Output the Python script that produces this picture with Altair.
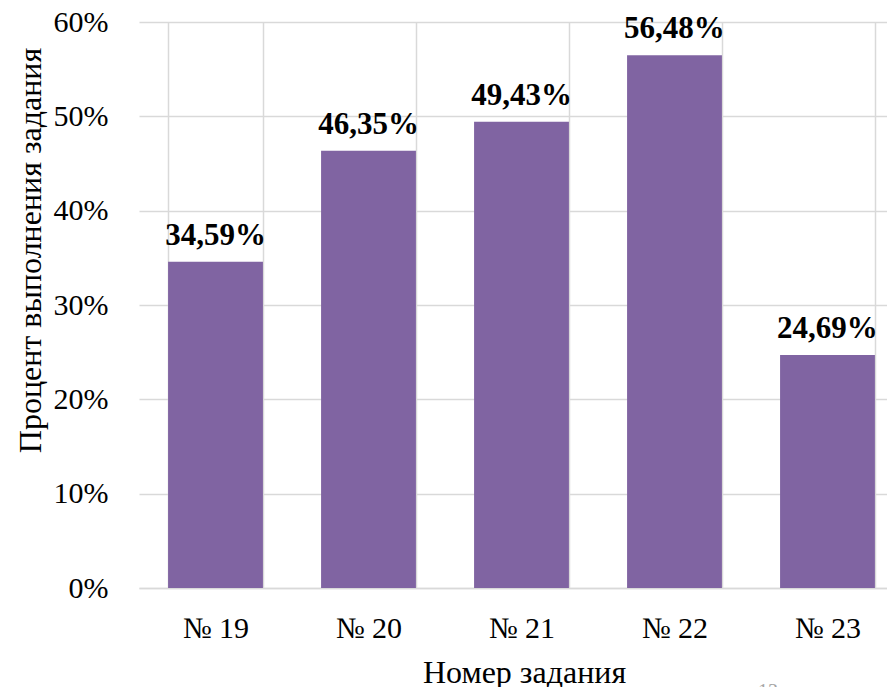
import altair as alt
import pandas as pd

tasks = ["№ 19", "№ 20", "№ 21", "№ 22", "№ 23"]
values = [34.59, 46.35, 49.43, 56.48, 24.69]
labels = ["34,59%", "46,35%", "49,43%", "56,48%", "24,69%"]

df = pd.DataFrame({
    "task": tasks,
    "value": [v / 100 for v in values],
    "label": labels,
})

FONT = "Liberation Serif"

xscale = alt.Scale(domain=tasks, paddingInner=0.38, paddingOuter=0.1345, align=0.7066)
yscale = alt.Scale(domain=[0, 0.6], nice=False)

base = alt.Chart(df)

bars = base.mark_bar(color="#8064A2").encode(
    x=alt.X(
        "task:N",
        scale=xscale,
        sort=tasks,
        axis=alt.Axis(
            title="Номер задания",
            titleFont=FONT,
            titleFontSize=32,
            titleFontWeight="normal",
            titleColor="#000000",
            titleX=385,
            titleY=94,
            titleBaseline="alphabetic",
            labelFont=FONT,
            labelFontSize=30,
            labelColor="#000000",
            labelAngle=0,
            labelBaseline="alphabetic",
            labelPadding=49,
            ticks=False,
            tickBand="extent",
            grid=True,
            gridColor="#D9D9D9",
            gridWidth=1.5,
            domainColor="#D9D9D9",
            domainWidth=1.5,
        ),
    ),
    y=alt.Y(
        "value:Q",
        scale=yscale,
        axis=alt.Axis(
            title="Процент выполнения задания",
            titleFont=FONT,
            titleFontSize=32,
            titleFontWeight="normal",
            titleColor="#000000",
            titleX=-99,
            titleY=228,
            titleBaseline="alphabetic",
            format=".0%",
            values=[0, 0.1, 0.2, 0.3, 0.4, 0.5, 0.6],
            labelFont=FONT,
            labelFontSize=30,
            labelColor="#000000",
            labelPadding=31,
            ticks=False,
            domain=False,
            grid=True,
            gridColor="#D9D9D9",
            gridWidth=1.5,
        ),
    ),
)

text = base.mark_text(
    font=FONT,
    fontSize=31,
    fontWeight="bold",
    color="#000000",
    baseline="alphabetic",
    dy=-17,
).encode(
    x=alt.X("task:N", scale=xscale, sort=tasks),
    y=alt.Y("value:Q", scale=yscale),
    text="label:N",
)

page = alt.Chart(pd.DataFrame({"t": ["13"]})).mark_text(
    font=FONT, fontSize=20, color="#A6A6A6", baseline="top", align="left"
).encode(x=alt.value(619), y=alt.value(660), text="t:N")

chart = (
    alt.layer(bars, text, page)
    .properties(
        width=748,
        height=566,
        autosize=alt.AutoSizeParams(type="none"),
        padding={"left": 131, "top": 14, "right": 0, "bottom": 99},
        background="#FFFFFF",
    )
    .configure(font=FONT)
    .configure_view(strokeWidth=0)
)

chart.save("out.html", embed_options={"renderer": "svg", "actions": False})
